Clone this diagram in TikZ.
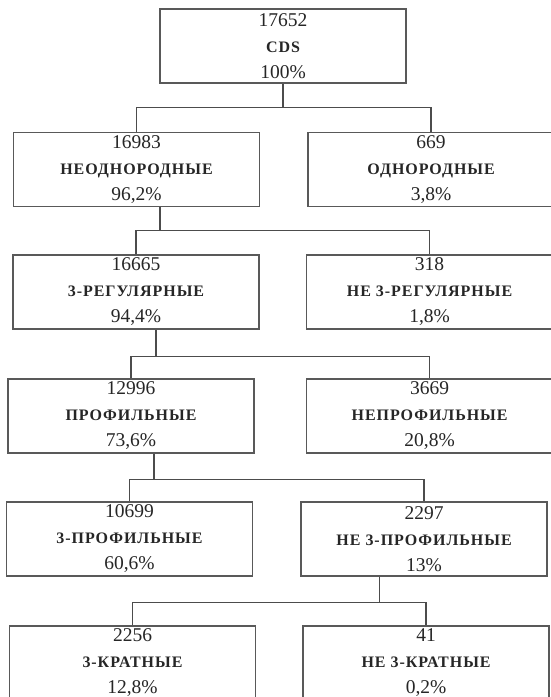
\documentclass[tikz,border=0pt]{standalone}
\usepackage{fontspec}
\setmainfont{Liberation Serif}
\usetikzlibrary{positioning}
\newcommand{\klass}[1]{{\fontsize{16}{26}\selectfont\bfseries\addfontfeature{LetterSpace=6}#1}}

\begin{document}
\begin{tikzpicture}[x=1pt, y=-1pt,
squarednode/.style={rectangle, draw=black!65, line width=1.6pt, fill=white, minimum width=246pt, minimum height=74pt, inner sep=0pt, align=center, text=black!85, font=\fontsize{19.5}{26}\selectfont},
liniya/.style={draw=black!70, line width=1.3pt},
]
\useasboundingbox (0,0) rectangle (550,697);
%Nodes
\node[squarednode]      (cds_node)          at (283,46)      {17652\\\klass{CDS}\\100\%};
\node[squarednode]      (neodnorodnye_node) at (136.5,169.5) {16983\\\klass{НЕОДНОРОДНЫЕ}\\96,2\%};
\node[squarednode]      (odnorodnye_node)   [right=47 of neodnorodnye_node] {669\\\klass{ОДНОРОДНЫЕ}\\3,8\%};
\node[squarednode]      (reg3_node)         at (136,292)     {16665\\\klass{3-РЕГУЛЯРНЫЕ}\\94,4\%};
\node[squarednode]      (nereg3_node)       [right=46 of reg3_node] {318\\\klass{НЕ 3-РЕГУЛЯРНЫЕ}\\1,8\%};
\node[squarednode]      (profil_node)       at (131,416)     {12996\\\klass{ПРОФИЛЬНЫЕ}\\73,6\%};
\node[squarednode]      (neprofil_node)     [right=51 of profil_node] {3669\\\klass{НЕПРОФИЛЬНЫЕ}\\20,8\%};
\node[squarednode]      (profil3_node)      at (129.5,539)   {10699\\\klass{3-ПРОФИЛЬНЫЕ}\\60,6\%};
\node[squarednode]      (neprofil3_node)    [right=47 of profil3_node] {2297\\\klass{НЕ 3-ПРОФИЛЬНЫЕ}\\13\%};
\node[squarednode]      (krat3_node)        at (132.5,663)   {2256\\\klass{3-КРАТНЫЕ}\\12,8\%};
\node[squarednode]      (nekrat3_node)      [right=46 of krat3_node] {41\\\klass{НЕ 3-КРАТНЫЕ}\\0,2\%};

%Lines
\draw[liniya] (cds_node.south) -- ++(0,24) coordinate (vetv1);
\draw[liniya] (neodnorodnye_node.north) |- (vetv1) -| (odnorodnye_node.north);
\draw[liniya] ([xshift=23.5]neodnorodnye_node.south) -- ++(0,23.5) coordinate (vetv2);
\draw[liniya] (reg3_node.north) |- (vetv2) -| (nereg3_node.north);
\draw[liniya] ([xshift=20]reg3_node.south) -- ++(0,26.5) coordinate (vetv3);
\draw[liniya] (profil_node.north) |- (vetv3) -| (neprofil_node.north);
\draw[liniya] ([xshift=23]profil_node.south) -- ++(0,25.5) coordinate (vetv4);
\draw[liniya] (profil3_node.north) |- (vetv4) -| (neprofil3_node.north);
\draw[liniya] ([xshift=-44.5]neprofil3_node.south) -- ++(0,25.5) coordinate (vetv5);
\draw[liniya] (krat3_node.north) |- (vetv5) -| (nekrat3_node.north);

\end{tikzpicture}
\end{document}
